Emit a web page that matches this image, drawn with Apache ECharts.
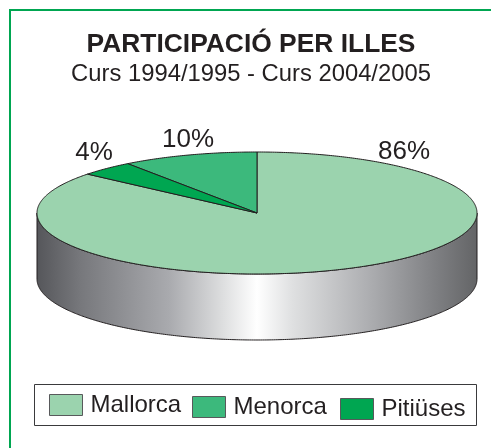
<!DOCTYPE html>
<html>
<head>
<meta charset="utf-8">
<style>
  html, body { margin: 0; padding: 0; background: #fff; }
  #chart { width: 491px; height: 448px; }
</style>
<script src="https://cdn.jsdelivr.net/npm/echarts@6/dist/echarts.min.js"></script>
</head>
<body>
<div id="chart"></div>
<script>
const islands = ['Mallorca', 'Menorca', 'Pitiüses'];
const shares = [86, 10, 4];
const colors = ['#9bd3ae', '#3cb97c', '#00a651'];

// order the slices run anticlockwise from twelve o'clock
const sliceOrder = [1, 2, 0];

const FONT = '"Liberation Sans", Arial, sans-serif';
const INK = '#231f20';
const pie = { cx: 257, cy: 213, rx: 220, ry: 61, depth: 66 };

// label and legend placement, by island
const labelPos = [[404, 152], [188, 140], [94, 153]];
const legendPos = [[49, 393], [192, 395], [340, 397]];

const total = shares.reduce((a, b) => a + b, 0);
const startShare = {};
let run = 0;
sliceOrder.forEach(i => {
  startShare[i] = run;
  run += shares[i];
});

// point on the top ellipse, angle in radians anticlockwise from the top
const rim = (a, dy = 0) => [
  pie.cx - pie.rx * Math.sin(a),
  pie.cy - pie.ry * Math.cos(a) + dy
];

const arc = (from, to, dy = 0) => {
  const pts = [];
  const steps = Math.max(2, Math.ceil(Math.abs(to - from) / 0.01));
  for (let s = 0; s <= steps; s++) pts.push(rim(from + (to - from) * s / steps, dy));
  return pts;
};

const renderSide = () => {
  const front = arc(Math.PI / 2, Math.PI * 1.5);
  const back = arc(Math.PI * 1.5, Math.PI / 2, pie.depth);
  return {
    type: 'polygon',
    shape: { points: front.concat(back) },
    style: {
      stroke: INK,
      lineWidth: 1,
      fill: new echarts.graphic.LinearGradient(0, 0, 1, 0, [
        { offset: 0, color: '#55565a' },
        { offset: 0.1, color: '#77787c' },
        { offset: 0.3, color: '#a9aaae' },
        { offset: 0.42, color: '#dcddde' },
        { offset: 0.5, color: '#ffffff' },
        { offset: 0.58, color: '#dfe0e1' },
        { offset: 0.75, color: '#aeafb2' },
        { offset: 0.9, color: '#808184' },
        { offset: 1, color: '#636466' }
      ])
    }
  };
};

const renderSlice = (index) => (params, api) => {
  const from = startShare[index] / total * Math.PI * 2;
  const to = from + api.value(0) / total * Math.PI * 2;
  return {
    type: 'polygon',
    shape: { points: [[pie.cx, pie.cy]].concat(arc(from, to)) },
    style: { fill: colors[index], stroke: INK, lineWidth: 1, lineJoin: 'round' }
  };
};

const chart = echarts.init(document.getElementById('chart'));

chart.setOption({
  animation: false,
  backgroundColor: '#fff',
  title: {
    text: 'PARTICIPACIÓ PER ILLES',
    subtext: 'Curs 1994/1995 - Curs 2004/2005',
    left: 251,
    top: 32,
    textAlign: 'center',
    padding: 0,
    itemGap: 4,
    textStyle: { fontFamily: FONT, fontSize: 26.4, fontWeight: 'bold', color: INK },
    subtextStyle: { fontFamily: FONT, fontSize: 23.8, color: INK }
  },
  legend: islands.map((name, i) => ({
    data: [{ name, itemStyle: { color: colors[i], borderColor: '#58595b', borderWidth: 1 } }],
    icon: 'rect',
    left: legendPos[i][0],
    top: legendPos[i][1],
    padding: 0,
    itemWidth: 33,
    itemHeight: 21,
    selectedMode: false,
    textStyle: { fontFamily: FONT, fontSize: 24, color: INK, padding: [0, 0, 0, 3] }
  })),
  graphic: [
    // green frame, only the top and left edges are on the page
    { type: 'line', silent: true, shape: { x1: 10, y1: 10, x2: 491, y2: 10 }, style: { stroke: '#00a651', lineWidth: 2 } },
    { type: 'line', silent: true, shape: { x1: 10, y1: 9, x2: 10, y2: 448 }, style: { stroke: '#00a651', lineWidth: 2 } },
    // legend box
    { type: 'rect', silent: true, z: -1, shape: { x: 34.5, y: 384.5, width: 442, height: 41 }, style: { fill: '#fff', stroke: '#3a3a3c', lineWidth: 1 } }
  ].concat(islands.map((name, i) => ({
    type: 'text',
    silent: true,
    z: 10,
    x: labelPos[i][0],
    y: labelPos[i][1],
    style: {
      text: shares[i] + '%',
      fontFamily: FONT,
      fontSize: 26,
      fill: INK,
      align: 'center',
      verticalAlign: 'middle'
    }
  }))),
  series: [
    {
      type: 'custom',
      name: 'side',
      coordinateSystem: 'none',
      silent: true,
      data: [[total]],
      renderItem: renderSide
    }
  ].concat(islands.map((name, i) => ({
    type: 'custom',
    name,
    coordinateSystem: 'none',
    itemStyle: { color: colors[i] },
    data: [[shares[i]]],
    renderItem: renderSlice(i)
  })))
});
</script>
</body>
</html>
